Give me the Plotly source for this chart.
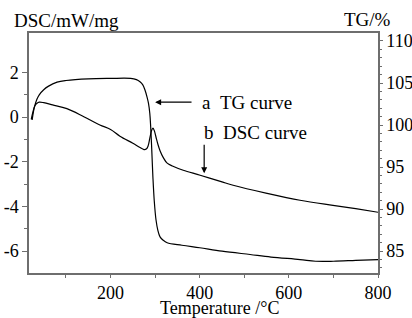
import plotly.graph_objects as go

# TG curve (right axis, %)
T_tg = [24, 27, 30, 35, 40, 50, 60, 80, 100, 150, 200, 245, 258, 266, 272, 277, 282, 285, 288, 290, 292,
        295, 298, 302, 306, 311, 318, 327, 360, 400, 450, 513, 560, 625, 660, 700, 750, 800]
TG = [100.6, 101.6, 102.3, 103.1, 103.6, 104.2, 104.6, 105.1, 105.3, 105.5, 105.55, 105.55, 105.4, 105.15,
      104.8, 104.2, 103.3, 102.6, 101.4, 99.8, 97.6, 93.8, 91.0, 88.7, 87.5, 86.7, 86.3, 86.0, 85.7, 85.4,
      85.0, 84.6, 84.3, 84.0, 83.8, 83.8, 83.9, 84.0]

# DSC curve (left axis, mW/mg)
T_dsc = [22, 26, 30, 35, 40, 50, 70, 102, 140, 176, 200, 221, 250, 265, 275, 280, 284, 288, 292, 295, 298,
         302, 306, 311, 318, 327, 340, 363, 401, 450, 475, 551, 625, 699, 750, 800]
DSC = [-0.1, 0.25, 0.5, 0.62, 0.67, 0.65, 0.55, 0.38, 0.02, -0.35, -0.55, -0.85, -1.17, -1.35, -1.45, -1.43,
       -1.3, -0.95, -0.6, -0.49, -0.6, -0.9, -1.2, -1.5, -1.8, -2.06, -2.2, -2.38, -2.6, -2.9, -3.05, -3.41,
       -3.72, -3.95, -4.1, -4.26]

x_ticks = [200, 400, 600, 800]
dsc_ticks = [2, 0, -2, -4, -6]
dsc_ticktext = ["2", "0", "-2", "-4", "-6"]
tg_ticks = [85, 90, 95, 100, 105, 110]

FONT = "Liberation Serif"
AX = "#6e6e6e"

fig = go.Figure()
fig.add_trace(go.Scatter(x=T_dsc, y=DSC, mode="lines", line=dict(color="black", width=1.2),
                         line_shape="spline", showlegend=False))
fig.add_trace(go.Scatter(x=T_tg, y=TG, mode="lines", line=dict(color="black", width=1.2),
                         line_shape="spline", yaxis="y2", showlegend=False))

axis_common = dict(showgrid=False, zeroline=False, showline=True, linecolor=AX, linewidth=1.5,
                   ticks="outside", tickcolor=AX, tickwidth=1, automargin=False,
                   tickfont=dict(family=FONT, size=18, color="black"))

fig.update_layout(
    width=412, height=318,
    margin=dict(l=29, r=34, t=33, b=45, autoexpand=False),
    paper_bgcolor="white", plot_bgcolor="white",
    font=dict(family=FONT, size=19, color="black"),
    xaxis=dict(range=[17, 800], tickvals=x_ticks, mirror=True, ticklen=3,
               minor=dict(tickvals=[100, 300, 500, 700], ticks="outside", ticklen=3, tickcolor=AX),
               **axis_common),
    yaxis=dict(range=[-6.98, 3.77], tickvals=dsc_ticks, ticktext=dsc_ticktext, ticklen=5,
               minor=dict(tickvals=[1, -1, -3, -5], ticks="outside", ticklen=3, tickcolor=AX),
               **axis_common),
    yaxis2=dict(range=[82.4, 110.95], tickvals=tg_ticks, overlaying="y", side="right", ticklen=3,
                minor=dict(dtick=1, ticks="outside", ticklen=2, tickcolor=AX),
                **axis_common),
)

ann = [
    dict(text="DSC/mW/mg", x=-0.049, y=1.05, xref="paper", yref="paper", xanchor="left", yanchor="middle",
         showarrow=False),
    dict(text="TG/%", x=0.971, y=1.055, xref="paper", yref="paper", xanchor="center", yanchor="middle",
         showarrow=False),
    dict(text="Temperature /°C", x=0.546, y=-0.146, xref="paper", yref="paper", xanchor="center",
         yanchor="middle", showarrow=False, font=dict(family=FONT, size=18, color="black")),
    dict(text="a\u00a0\u00a0TG curve", x=401, y=0.67, xref="x", yref="y", xanchor="left", yanchor="middle",
         showarrow=False),
    dict(text="b\u00a0\u00a0DSC curve", x=405, y=-0.67, xref="x", yref="y", xanchor="left", yanchor="middle",
         showarrow=False),
    dict(text="", x=300, y=0.67, ax=385, ay=0.67, xref="x", yref="y", axref="x", ayref="y",
         showarrow=True, arrowhead=2, arrowsize=1, arrowwidth=1.2, arrowcolor="black"),
    dict(text="", x=410, y=-2.51, ax=410, ay=-1.17, xref="x", yref="y", axref="x", ayref="y",
         showarrow=True, arrowhead=2, arrowsize=1, arrowwidth=1.2, arrowcolor="black"),
]
fig.update_layout(annotations=ann)

fig.write_html("out.html", config={"displayModeBar": False},
               post_script="document.body.style.margin='0';document.body.style.padding='0';")
